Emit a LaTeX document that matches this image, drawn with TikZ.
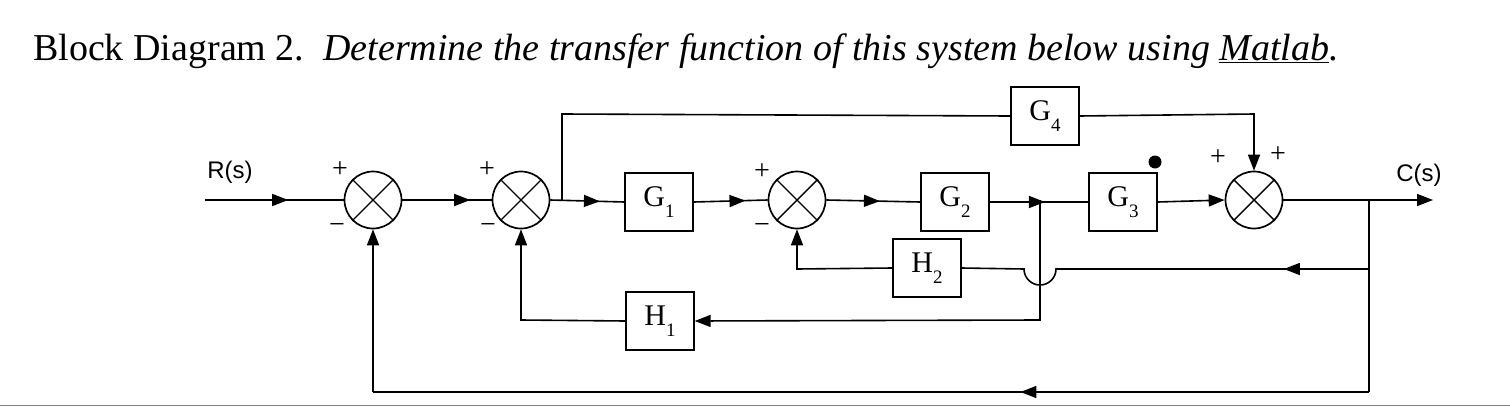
\documentclass[tikz,border=0pt]{standalone}
\usepackage{fontspec}
\setmainfont{Liberation Serif}
\newfontfamily\lsans{Liberation Sans}
\usetikzlibrary{arrows.meta,decorations.markings}
\newcommand{\sbs}[1]{\raisebox{-0.35em}{\fontsize{19}{19}\selectfont #1}}
\begin{document}
\begin{tikzpicture}[x=1pt,y=-1pt,
  ln/.style={line width=1.6pt},
  tip/.style={-{Triangle[length=16pt,width=12pt]}},
  arrat/.style={postaction={decorate,decoration={markings,mark=at position #1 with {\arrow{Triangle[length=16pt,width=12pt]}}}}},
  sumnode/.style={draw,circle,line width=1.7pt,minimum size=57pt,inner sep=0pt},
  blk/.style={draw,line width=1.4pt,minimum width=68pt,minimum height=58pt,inner sep=0pt,font=\fontsize{30}{32}\selectfont},
  sgn/.style={font=\fontsize{28}{30}\selectfont},
  lab/.style={font=\lsans\fontsize{24}{26}\selectfont}]
\useasboundingbox (0,0) rectangle (1510,415);
\node[anchor=base west,inner sep=0pt,font=\fontsize{38}{42}\selectfont] (title) at (33,60)
  {Block Diagram 2.\ \ \textit{Determine the transfer function of this system below using \underline{Matlab}.}};
\draw[gray,line width=1pt] (0,405) -- (1510,405);
\node[sumnode] (s1) at (373,200) {};
\node[sumnode] (s2) at (521,200) {};
\node[sumnode] (s3) at (797,200) {};
\node[sumnode] (s4) at (1254,200) {};
\foreach \s in {s1,s2,s3,s4} \draw[line width=1.4pt] (\s.45)--(\s.225) (\s.135)--(\s.315);
\node[blk] (g1) at (659,202) {G\sbs{1}};
\node[blk] (g2) at (955,202) {G\sbs{2}};
\node[blk] (g3) at (1123,202) {G\sbs{3}};
\node[blk] (g4) at (1045,116) {G\sbs{4}};
\node[blk] (h1) at (660,321) {H\sbs{1}};
\node[blk] (h2) at (927,268) {H\sbs{2}};
\fill (1155,162) circle (6.5);
\node[lab] (rl) at (230,172) {R(s)};
\node[lab] (cl) at (1419,175) {C(s)};
\coordinate (rin) at (205,200);
\coordinate (cout) at (1433,200);
\coordinate (b4) at (562,200);
\coordinate (bo) at (1369,200);
\coordinate (bj) at (1040,200);
\node[sgn] (p1) at (340,170) {+};
\node[sgn] (m1) at (337,228) {\textminus};
\node[sgn] (p2) at (487,170) {+};
\node[sgn] (m2) at (488,228) {\textminus};
\node[sgn] (p3) at (762,172) {+};
\node[sgn] (m3) at (762,228) {\textminus};
\node[sgn] (p4) at (1218,158) {+};
\node[sgn] (p5) at (1278,155) {+};
\draw[ln,arrat=0.6] (rin) -- (s1.west);
\draw[ln,arrat=0.76] (s1.east) -- (s2.west);
\draw[ln,arrat=0.67] (s2.east) -- (g1.west);
\draw[ln,arrat=0.7] (g1.east) -- (s3.west);
\draw[ln,arrat=0.57] (s3.east) -- (g2.west);
\draw[ln,arrat=0.56] (g2.east) -- (g3.west);
\draw[ln,tip] (g3.east) -- (s4.west);
\draw[ln,tip] (s4.east) -- (cout);
\draw[ln] (b4) -- (562,114) -- (g4.west);
\draw[ln,tip] (g4.east) -- (1254,114) -- (s4.north);
\draw[ln] (bo) -- (1369,269);
\draw[ln,arrat=0.2] (1369,269) -- (1056,269) arc[start angle=0,end angle=180,radius=16] -- (h2.east);
\draw[ln,tip] (h2.west) -- (797,269) -- (s3.south);
\draw[ln,tip] (bj) -- (1040,320) -- (h1.east);
\draw[ln,tip] (h1.west) -- (521,320) -- (s2.south);
\draw[ln] (bo) -- (1369,392);
\draw[ln,arrat=0.35] (1369,392) -- (373,392);
\draw[ln,tip] (373,392) -- (s1.south);
\end{tikzpicture}
\end{document}
